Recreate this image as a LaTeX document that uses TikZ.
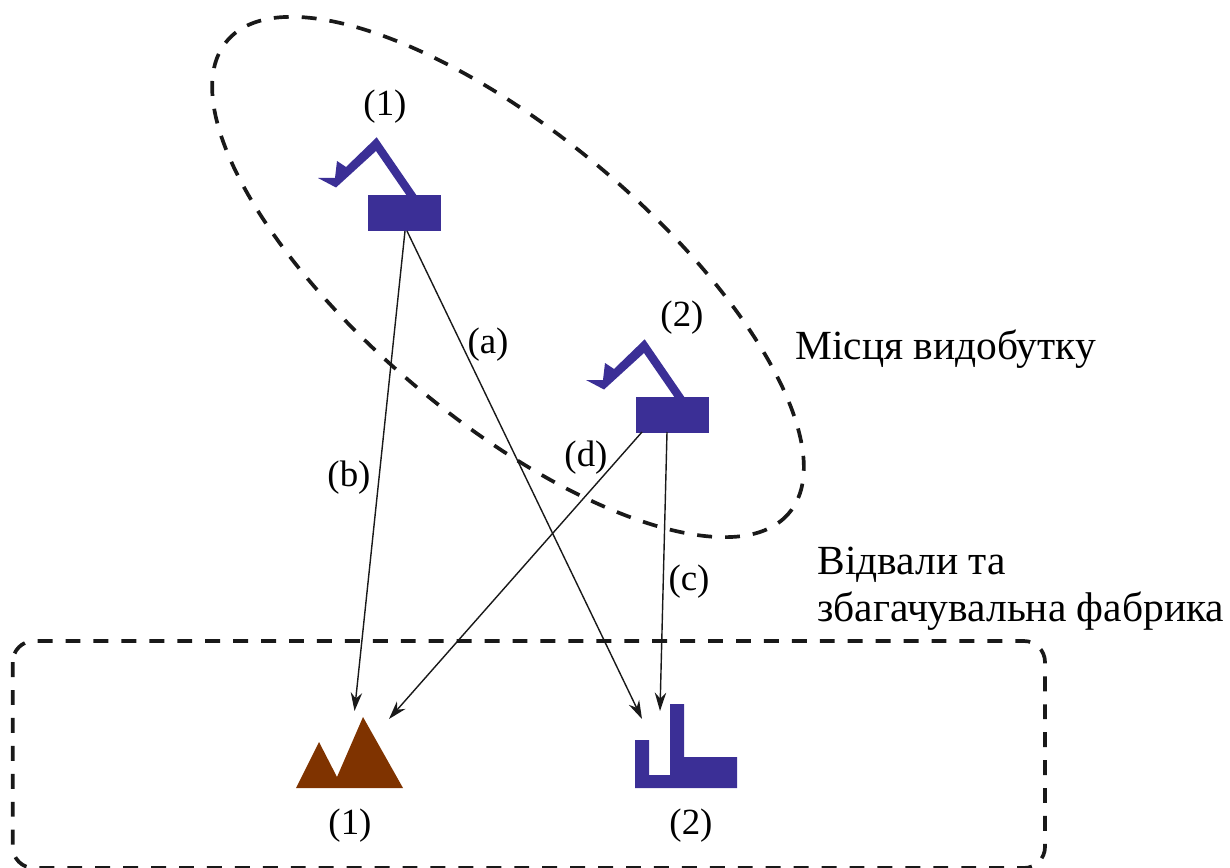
\documentclass[tikz,border=0pt]{standalone}
\usepackage{fontspec}
\setmainfont{Liberation Serif}
\usepackage{xcolor}
\usepackage{tikz}
\usetikzlibrary{arrows.meta}
\definecolor{diggerblue}{HTML}{3B2F96}
\definecolor{heapbrown}{HTML}{7F3300}
\tikzset{
    txt/.style={font=\fontsize{21}{25}\selectfont, inner sep=0pt},
    bigtxt/.style={font=\fontsize{23.6}{28}\selectfont, inner sep=0pt, anchor=west},
    zone/.style={line width=2.1pt, dash pattern=on 8.5pt off 7.4pt, black!90},
    haul/.style={line width=0.8pt, black!90, -{Stealth[length=10.5pt,width=6.5pt]}}
}

\begin{document}
\begin{tikzpicture}[x=0.02cm, y=-0.02cm]
        \useasboundingbox (0,0) rectangle (1230,868);

        % zones
        \draw[zone, rotate around={-40:(508,277)}] (508,277) ellipse [x radius=367, y radius=143];
        \draw[zone, rounded corners=12pt] (12.7,641) rectangle (1045,868);

        % diggers
        \foreach \dx/\dy/\num in {0/0/1, 268/202/2} {
            \begin{scope}[xshift=\dx*0.02cm, yshift=-\dy*0.02cm]
                \fill[diggerblue] (376.7,137.3) -- (346,167) -- (337,161) -- (335,178) -- (318,178)
                    -- (336,187.5) -- (376,151) -- (407,196) -- (417,196) -- cycle;
                \fill[diggerblue] (368,195) rectangle (441,231);
                \coordinate (dig\num l) at (405,231);
            \end{scope}
        }
        \coordinate (dig1a) at (407,231);
        \coordinate (dig2c) at (667,432);
        \coordinate (dig2d) at (642,432);

        % heap and plant
        \fill[heapbrown] (296,788) -- (319,742) -- (337,777) -- (363,717) -- (403,788) -- cycle;
        \fill[diggerblue] (635,788) -- (635,740) -- (649,740) -- (649,775) -- (670,775) -- (670,704)
            -- (684,704) -- (684,757) -- (737,757) -- (737,788) -- cycle;
        \coordinate (heaptop) at (354.5,711);
        \coordinate (heapright) at (389,719);
        \coordinate (plantleft) at (642,719);
        \coordinate (planttop) at (660,711);

        % haul routes
        \draw[haul] (dig1l) -- (heaptop);
        \draw[haul] (dig1a) -- (plantleft);
        \draw[haul] (dig2c) -- (planttop);
        \draw[haul] (dig2d) -- (heapright);

        \node[txt] (labela) at (488,345) {(a)};
        \node[txt] (labelb) at (349,478) {(b)};
        \node[txt] (labelc) at (689,582) {(c)};
        \node[txt] (labeld) at (586,458) {(d)};

        \node[txt] (dignum1) at (385,107) {(1)};
        \node[txt] (dignum2) at (682,318) {(2)};
        \node[txt] (heapnum) at (350,826) {(1)};
        \node[txt] (plantnum) at (691,826) {(2)};

        \node[bigtxt] (minetxt) at (795,349) {Місця видобутку};
        \node[bigtxt] (dumptxt) at (817,565) {Відвали та};
        \node[bigtxt] (planttxt) at (817,611) {збагачувальна фабрика};
\end{tikzpicture}
\end{document}
